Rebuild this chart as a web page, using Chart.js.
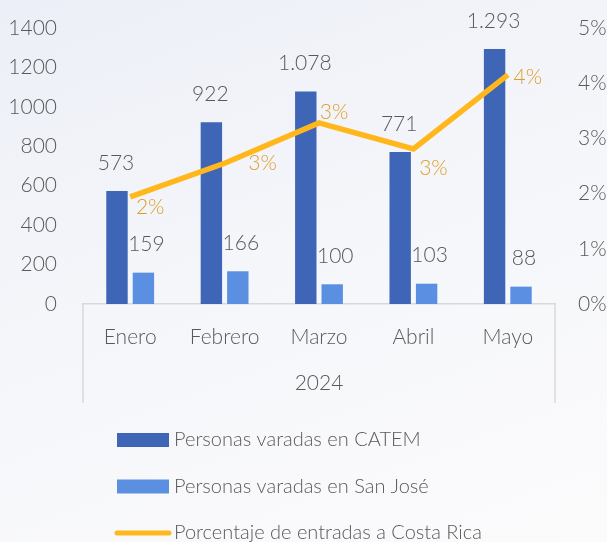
<!DOCTYPE html>
<html>
<head>
<meta charset="utf-8">
<script src="https://cdn.jsdelivr.net/npm/chart.js@4.4.1/dist/chart.umd.min.js"></script>
<style>
  html, body { margin: 0; padding: 0; }
  body {
    width: 607px; height: 542px; overflow: hidden;
    background: linear-gradient(160deg, #eceff7 0%, #f5f6fa 45%, #fbfbfc 100%);
  }
  #wrap { position: relative; width: 607px; height: 542px; }
</style>
</head>
<body>
<div id="wrap"><canvas id="chart"></canvas></div>
<script>
// --- Data ---
const months = ['Enero', 'Febrero', 'Marzo', 'Abril', 'Mayo'];
const yearLabel = '2024';
const catem = [573, 922, 1078, 771, 1293];
const sanJose = [159, 166, 100, 103, 88];
const pctEntradas = [1.94, 2.55, 3.28, 2.81, 4.15]; // % of entries to Costa Rica
const leftAxis = { min: 0, max: 1400, step: 200 };
const rightAxis = { min: 0, max: 5, step: 1 };
const seriesNames = [
  'Personas varadas en CATEM',
  'Personas varadas en San José',
  'Porcentaje de entradas a Costa Rica'
];

const FONT = "Lato, 'Open Sans', sans-serif";
const TEXT = '#595959';
const DARK = '#3f65b6';
const LIGHT = '#5b8fe2';
const GOLD = '#ffb71b';
const GOLD_TEXT = '#de9f28';

// 1.078 style thousands
function fmt(n) {
  return String(n).replace(/\B(?=(\d{3})+(?!\d))/g, '.');
}

// value labels on bars + line
const pctOffsets = [[20, 10], [38, 0], [15, -11], [20, 19], [20, 2]];
const valueLabels = {
  id: 'valueLabels',
  afterDatasetsDraw(chart) {
    const ctx = chart.ctx;
    ctx.save();
    ctx.font = '300 21px ' + FONT;
    ctx.textAlign = 'center';
    ctx.textBaseline = 'middle';
    [0, 1].forEach(i => {
      const meta = chart.getDatasetMeta(i);
      meta.data.forEach((bar, j) => {
        ctx.fillStyle = TEXT;
        const dx = i === 1 ? 3 : -1;
        ctx.fillText(fmt(chart.data.datasets[i].data[j]), bar.x + dx, bar.y - 28);
      });
    });
    const lineMeta = chart.getDatasetMeta(2);
    ctx.fillStyle = GOLD_TEXT;
    lineMeta.data.forEach((pt, j) => {
      const v = chart.data.datasets[2].data[j];
      ctx.fillText(Math.round(v) + '%', pt.x + pctOffsets[j][0], pt.y + pctOffsets[j][1]);
    });
    ctx.restore();
  }
};

// box around the category axis (Excel multi-level axis look)
const axisFrame = {
  id: 'axisFrame',
  afterDraw(chart) {
    const x = chart.scales.x;
    const ctx = chart.ctx;
    ctx.save();
    ctx.strokeStyle = '#d9d9d9';
    ctx.lineWidth = 1.5;
    ctx.beginPath();
    ctx.moveTo(x.left, x.top); ctx.lineTo(x.left, x.bottom);
    ctx.moveTo(x.right, x.top); ctx.lineTo(x.right, x.bottom);
    ctx.stroke();
    ctx.restore();
  }
};

// vertical legend under the axis
const stackedLegend = {
  id: 'stackedLegend',
  afterDraw(chart) {
    const ctx = chart.ctx;
    const x0 = 117, top = chart.scales.x.bottom + 37, gap = 46.5;
    ctx.save();
    ctx.font = '300 20px ' + FONT;
    ctx.textBaseline = 'middle';
    ctx.textAlign = 'left';
    chart.data.datasets.forEach((ds, i) => {
      const y = top + i * gap;
      if (ds.type === 'line') {
        ctx.strokeStyle = ds.borderColor;
        ctx.lineWidth = 5;
        ctx.lineCap = 'round';
        ctx.beginPath();
        ctx.moveTo(x0, y); ctx.lineTo(x0 + 52, y);
        ctx.stroke();
      } else {
        ctx.fillStyle = ds.backgroundColor;
        ctx.fillRect(x0, y - 7, 52, 14);
      }
      ctx.fillStyle = TEXT;
      ctx.fillText(ds.label, x0 + 57, y);
    });
    ctx.restore();
  }
};

const tickFont = { family: FONT, size: 21, weight: '300' };

const ctx = document.getElementById('chart').getContext('2d');
new Chart(ctx, {
  type: 'bar',
  data: {
    labels: months,
    datasets: [
      {
        label: seriesNames[0],
        data: catem,
        backgroundColor: DARK,
        yAxisID: 'y',
        order: 1,
        categoryPercentage: 0.56,
        barPercentage: 0.81
      },
      {
        label: seriesNames[1],
        data: sanJose,
        backgroundColor: LIGHT,
        yAxisID: 'y',
        order: 1,
        categoryPercentage: 0.56,
        barPercentage: 0.81
      },
      {
        type: 'line',
        label: seriesNames[2],
        data: pctEntradas,
        borderColor: GOLD,
        backgroundColor: GOLD,
        borderWidth: 5.5,
        pointRadius: 0,
        tension: 0,
        yAxisID: 'y1',
        order: 0
      }
    ]
  },
  options: {
    responsive: true,
    maintainAspectRatio: false,
    animation: false,
    layout: { padding: { top: 28, bottom: 139, left: 0, right: 0 } },
    plugins: {
      legend: { display: false },
      tooltip: { enabled: false }
    },
    scales: {
      x: {
        grid: { display: false },
        border: { display: true, color: '#d9d9d9', width: 1.5 },
        ticks: { color: TEXT, padding: 13, font: tickFont },
        title: {
          display: true, text: yearLabel, color: TEXT,
          font: tickFont,
          padding: { top: 0, bottom: 7 }
        },
        afterFit(scale) { scale.height = 99; }
      },
      y: {
        position: 'left',
        min: leftAxis.min, max: leftAxis.max,
        // tickLength does the horizontal gap so it doesn't eat vertical room
        grid: { display: false, drawTicks: true, tickLength: 26 },
        border: { display: false },
        ticks: {
          stepSize: leftAxis.step, color: TEXT, padding: 0, font: tickFont,
          callback: v => String(v)
        },
        afterFit(scale) { scale.width = 83; }
      },
      y1: {
        position: 'right',
        min: rightAxis.min, max: rightAxis.max,
        grid: { display: false, drawTicks: true, tickLength: 23 },
        border: { display: false },
        ticks: {
          stepSize: rightAxis.step, color: TEXT, padding: 0, font: tickFont,
          callback: v => v + '%'
        },
        afterFit(scale) { scale.width = 52; }
      }
    }
  },
  plugins: [valueLabels, axisFrame, stackedLegend]
});
</script>
</body>
</html>
